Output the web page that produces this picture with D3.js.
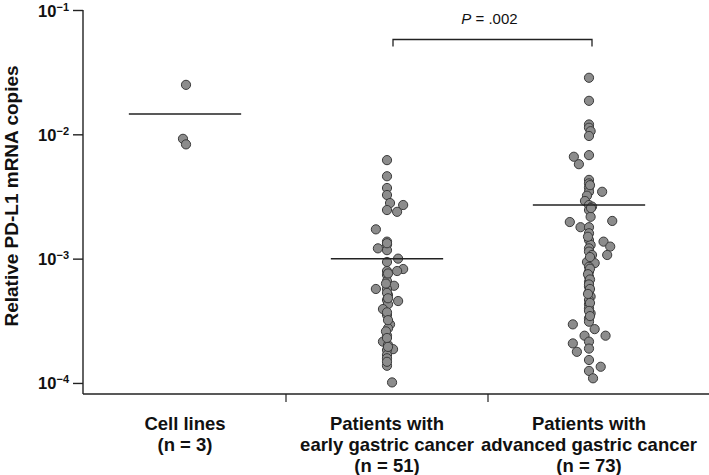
<!DOCTYPE html>
<html>
<head>
<meta charset="utf-8">
<script src="https://cdn.jsdelivr.net/npm/d3@7/dist/d3.min.js"></script>
<style>
  html, body { margin: 0; padding: 0; background: #fff; }
  svg { display: block; font-family: "Liberation Sans", Arial, sans-serif; }
</style>
</head>
<body>
<svg id="chart" width="709" height="475"></svg>
<script>
// ---- data ----
const groups = ["cell", "early", "advanced"];
const groupLabels = [
  ["Cell lines", "(n = 3)"],
  ["Patients with", "early gastric cancer", "(n = 51)"],
  ["Patients with", "advanced gastric cancer", "(n =  73)"]
];
const yTickValues = [1e-1, 1e-2, 1e-3, 1e-4];
const yTickExponents = ["\u22121", "\u22122", "\u22123", "\u22124"];
const groupMeans = [1.46e-2, 1.0e-3, 2.7e-3];

const cellValues = [2.5e-2, 9.2e-3, 8.3e-3];
const cellJitter = [0.05, -0.1, 0.05];

const earlyValues = [
  6.2e-3, 4.6e-3, 3.7e-3, 3.25e-3, 2.8e-3, 2.7e-3, 2.46e-3, 2.38e-3, 1.72e-3, 1.37e-3,
  1.3e-3, 1.21e-3, 1.17e-3, 1.0e-3, 9.4e-4, 8.25e-4, 7.95e-4, 7.95e-4, 7.4e-4, 6.6e-4,
  6.05e-4, 5.7e-4, 5.7e-4, 5.1e-4, 4.65e-4, 4.56e-4, 4.3e-4, 3.93e-4, 3.52e-4, 2.96e-4,
  2.75e-4, 2.4e-4, 2.15e-4, 2.02e-4, 1.87e-4, 1.84e-4, 1.68e-4, 1.58e-4, 1.375e-4, 1.01e-4,
  1.33e-3, 7.6e-4, 6.3e-4, 5.3e-4, 4.8e-4, 3.7e-4, 3.2e-4, 2.6e-4, 2.3e-4, 1.95e-4, 1.48e-4
];
const earlyJitter = [
  0, 0, 0, 0, 0.15, 0.8, 0, 0.5, -0.55, 0,
  0, -0.45, 0, 0.55, 0, 0.8, 0.5, 0, 0, 0,
  0.35, -0.55, 0, 0.05, 0, 0.55, 0.05, -0.2, 0, 0.15,
  0.05, 0, -0.2, 0.05, 0.3, 0, 0, 0, 0, 0.25,
  0, 0.05, -0.05, 0, 0.05, 0, 0.05, -0.05, 0, 0.05, 0
];

const advancedValues = [
  2.85e-2, 1.86e-2, 1.2e-2, 1.13e-2, 1.06e-2, 9.7e-3, 6.6e-3, 6.8e-3, 5.75e-3, 4.3e-3,
  4.03e-3, 3.72e-3, 3.45e-3, 3.45e-3, 3.21e-3, 2.91e-3, 2.7e-3, 2.62e-3, 2.46e-3, 2.17e-3,
  1.97e-3, 2.01e-3, 1.79e-3, 1.79e-3, 1.6e-3, 1.41e-3, 1.37e-3, 1.29e-3, 1.25e-3, 1.21e-3,
  1.14e-3, 1.07e-3, 1.07e-3, 9.4e-4, 9.2e-4, 8.6e-4, 7.85e-4, 7.15e-4, 6.5e-4, 5.95e-4,
  5.4e-4, 4.95e-4, 4.65e-4, 4.3e-4, 3.98e-4, 3.63e-4, 3.31e-4, 3.11e-4, 2.96e-4, 2.71e-4,
  2.4e-4, 2.4e-4, 2.15e-4, 2.08e-4, 1.89e-4, 1.78e-4, 1.53e-4, 1.35e-4, 1.25e-4, 1.09e-4,
  3.9e-3, 2.55e-3, 1.5e-3, 1.03e-3, 8.3e-4, 7.5e-4, 6.8e-4, 6.2e-4, 5.7e-4, 5.2e-4,
  4.4e-4, 3.8e-4, 3.45e-4
];
const advancedJitter = [
  0, 0, 0, 0, 0.08, 0, -0.75, 0, -0.5, 0,
  0, 0, 0.65, 0, -0.1, -0.2, 0, 0.15, 0, 0.08,
  -0.95, 1.15, -0.42, 0, 0, 0, 0.72, 0.08, 1.05, 0,
  0, 0.9, 0.15, -0.1, 0.28, 0, 0, 0, 0, 0,
  0, 0.08, 0, 0, 0, 0.08, 0, 0, -0.8, 0.28,
  -0.22, 0.82, 0, -0.8, 0, -0.6, 0, 0.58, 0, 0.2,
  0.05, 0.1, -0.05, 0.05, 0.05, -0.05, 0.05, 0, 0.05, -0.05,
  0.05, 0, 0.05
];

const pText = ".002";

// ---- layout ----
const svg = d3.select("#chart");
const axisX = 83, plotTop = 10, plotBottom = 394, rightEdge = 709;

const y = d3.scaleLog().domain([8.15e-5, 0.1]).range([plotBottom, plotTop]);
const x = d3.scaleBand().domain(groups).range([84, 690]).padding(0);
const bw = x.bandwidth();
const cx = g => x(g) + bw / 2;
const jitter = d3.scaleLinear().domain([-1, 1]).range([-bw * 0.1, bw * 0.1]);

const ink = "#222";

// y axis
const yAxis = d3.axisLeft(y).tickValues(yTickValues).tickSize(10).tickPadding(5).tickFormat(() => "");
const gy = svg.append("g").attr("transform", `translate(${axisX},0)`).call(yAxis);
gy.select(".domain").attr("d", `M0,${plotTop}V${plotBottom}`).attr("stroke", ink).attr("stroke-width", 1.4);
gy.selectAll(".tick line").attr("stroke", ink).attr("stroke-width", 1.4);
gy.selectAll(".tick text").remove();
gy.selectAll(".tick").each(function(d, i) {
  const t = d3.select(this).append("text")
    .attr("x", -14).attr("y", 6)
    .attr("text-anchor", "end")
    .attr("fill", "#111")
    .style("font-weight", "bold")
    .style("font-size", "16.5px");
  t.append("tspan").text("10");
  t.append("tspan").attr("dy", -6).style("font-size", "11px").text(yTickExponents[i]);
});

// y label
svg.append("text")
  .attr("transform", `translate(18,${(plotTop + plotBottom) / 2 - 6}) rotate(-90)`)
  .attr("text-anchor", "middle")
  .attr("fill", "#111")
  .style("font-weight", "bold")
  .style("font-size", "19px")
  .text("Relative PD-L1 mRNA copies");

// x axis line + boundary ticks
svg.append("line")
  .attr("x1", axisX).attr("x2", rightEdge)
  .attr("y1", plotBottom).attr("y2", plotBottom)
  .attr("stroke", ink).attr("stroke-width", 1.4);
svg.selectAll(".xtick").data(groups.slice(1)).enter().append("line")
  .attr("x1", d => x(d)).attr("x2", d => x(d))
  .attr("y1", plotBottom).attr("y2", plotBottom + 8)
  .attr("stroke", ink).attr("stroke-width", 1.2);

// x labels
groups.forEach((g, i) => {
  const t = svg.append("text")
    .attr("text-anchor", "middle")
    .attr("fill", "#111")
    .style("font-weight", "bold")
    .style("font-size", "18.5px");
  groupLabels[i].forEach((line, j) => {
    t.append("tspan").attr("x", cx(g)).attr("y", 430 + j * 21).text(line);
  });
});

// points
const series = [
  { g: "cell", v: cellValues, j: cellJitter },
  { g: "early", v: earlyValues, j: earlyJitter },
  { g: "advanced", v: advancedValues, j: advancedJitter }
];
series.forEach(s => {
  const pts = s.v.map((v, i) => ({ v, j: s.j[i] }));
  svg.append("g").selectAll("circle").data(pts).enter().append("circle")
    .attr("cx", d => cx(s.g) + jitter(d.j))
    .attr("cy", d => y(d.v))
    .attr("r", 4.6)
    .attr("fill", "#8c8c8c")
    .attr("stroke", "#3a3a3a")
    .attr("stroke-width", 1);
});

// mean lines
svg.append("g").selectAll("line").data(groups).enter().append("line")
  .attr("x1", (d) => cx(d) - bw * 0.278)
  .attr("x2", (d) => cx(d) + bw * 0.278)
  .attr("y1", (d, i) => y(groupMeans[i]))
  .attr("y2", (d, i) => y(groupMeans[i]))
  .attr("stroke", ink).attr("stroke-width", 1.5);

// significance bracket
const bx1 = cx("early") + 6, bx2 = cx("advanced") + 3, by = 39.5;
svg.append("path")
  .attr("d", `M${bx1},${by + 7}V${by}H${bx2}V${by + 7}`)
  .attr("fill", "none").attr("stroke", ink).attr("stroke-width", 1.3);
const pt = svg.append("text")
  .attr("x", (bx1 + bx2) / 2 - 3).attr("y", 24)
  .attr("text-anchor", "middle")
  .attr("fill", "#111")
  .style("font-size", "15px");
pt.append("tspan").style("font-style", "italic").text("P");
pt.append("tspan").text(" = " + pText);
</script>
</body>
</html>
